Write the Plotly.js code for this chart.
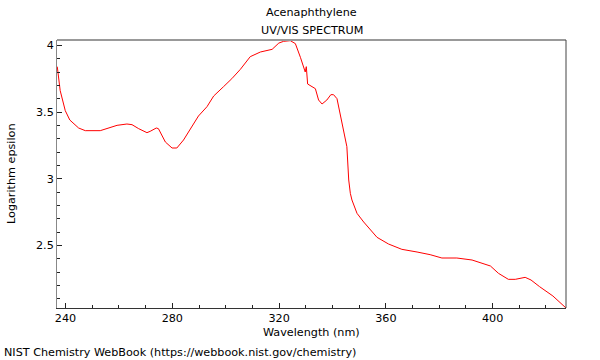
<!DOCTYPE html>
<html>
<head>
<meta charset="utf-8">
<script src="https://cdn.plot.ly/plotly-3.0.1.min.js"></script>
<style>html,body{margin:0;padding:0;background:#fff;}#chart{width:600px;height:360px;}</style>
</head>
<body>
<div id="chart"></div>
<script>
const wavelength = [236.9, 238.0, 239.9, 241.6, 244.9, 247.4, 253.0, 259.3, 263.0, 264.9, 267.4, 270.5, 271.7, 274.0, 274.8, 277.4, 279.9, 281.7, 284.2, 286.7, 289.8, 293.0, 295.5, 299.2, 302.3, 305.5, 307.3, 309.2, 313.0, 317.4, 319.9, 321.7, 324.2, 326.1, 328.0, 329.2, 329.8, 330.2, 330.5, 330.7, 333.6, 334.8, 336.1, 337.9, 339.4, 340.4, 341.7, 342.9, 344.8, 345.4, 346.1, 346.7, 347.3, 349.2, 351.7, 356.7, 361.0, 366.0, 371.7, 376.6, 381.0, 386.6, 392.3, 399.2, 402.2, 405.9, 408.5, 412.2, 414.4, 417.6, 422.6, 427.5];
const logEpsilon = [3.84, 3.66, 3.51, 3.44, 3.38, 3.36, 3.36, 3.40, 3.41, 3.405, 3.375, 3.345, 3.355, 3.38, 3.375, 3.275, 3.23, 3.23, 3.29, 3.375, 3.47, 3.54, 3.62, 3.69, 3.75, 3.82, 3.87, 3.915, 3.95, 3.97, 4.017, 4.03, 4.035, 4.013, 3.91, 3.84, 3.80, 3.84, 3.75, 3.71, 3.675, 3.59, 3.56, 3.59, 3.63, 3.63, 3.60, 3.49, 3.31, 3.24, 2.99, 2.89, 2.84, 2.74, 2.675, 2.56, 2.51, 2.47, 2.45, 2.43, 2.405, 2.405, 2.39, 2.345, 2.29, 2.245, 2.245, 2.26, 2.24, 2.19, 2.12, 2.03];
const titleLines = ["Acenaphthylene", "UV/VIS SPECTRUM"];
const xTitle = "Wavelength (nm)";
const yTitle = "Logarithm epsilon";
const footer = "NIST Chemistry WebBook (https://webbook.nist.gov/chemistry)";

const font = {family: "DejaVu Sans", size: 11.2, color: "#000"};
const data = [{
  x: wavelength, y: logEpsilon, type: "scatter", mode: "lines",
  line: {color: "#ff0000", width: 1}, hoverinfo: "skip"
}];
const layout = {
  width: 600, height: 360,
  margin: {l: 57, r: 34, t: 40, b: 52},
  paper_bgcolor: "#fff", plot_bgcolor: "#fff",
  showlegend: false,
  font: font,
  xaxis: {
    range: [236.8, 427.5], tick0: 240, dtick: 40,
    ticks: "inside", ticklen: 5, tickcolor: "#222", tickwidth: 1,
    minor: {dtick: 10, tick0: 240, ticks: "inside", ticklen: 3, tickcolor: "#222"},
    showline: true, linecolor: "#333", linewidth: 1,
    showgrid: false, zeroline: false, tickfont: font
  },
  yaxis: {
    range: [2.03, 4.04], tick0: 2.5, dtick: 0.5,
    ticks: "inside", ticklen: 5, tickcolor: "#222", tickwidth: 1,
    minor: {dtick: 0.1, tick0: 2.5, ticks: "inside", ticklen: 3, tickcolor: "#222"},
    showline: true, linecolor: "#888", linewidth: 1,
    showgrid: false, zeroline: false, tickfont: font
  },
  shapes: [
    {type: "line", xref: "paper", yref: "paper", x0: 0, x1: 1, y0: 1, y1: 1, line: {color: "#999", width: 2}},
    {type: "line", xref: "paper", yref: "paper", x0: 1, x1: 1, y0: 0, y1: 1, line: {color: "#444", width: 1}}
  ],
  annotations: [
    {text: titleLines[0], xref: "paper", yref: "paper", x: 0.5, y: (308 - 13) / 268, xanchor: "center", yanchor: "middle", showarrow: false, font: font},
    {text: titleLines[1], xref: "paper", yref: "paper", x: 0.5, y: (308 - 30) / 268, xanchor: "center", yanchor: "middle", showarrow: false, font: font},
    {text: xTitle, xref: "paper", yref: "paper", x: 0.5, y: (308 - 332) / 268, xanchor: "center", yanchor: "middle", showarrow: false, font: font},
    {text: yTitle, xref: "paper", yref: "paper", x: (11 - 57) / 508.7, y: 0.5, xanchor: "center", yanchor: "middle", textangle: -90, showarrow: false, font: font},
    {text: footer, xref: "paper", yref: "paper", x: (2 - 57) / 508.7, y: (308 - 352) / 268, xanchor: "left", yanchor: "middle", showarrow: false, font: font}
  ]
};
Plotly.newPlot("chart", data, layout, {displayModeBar: false, staticPlot: true});
</script>
</body>
</html>
